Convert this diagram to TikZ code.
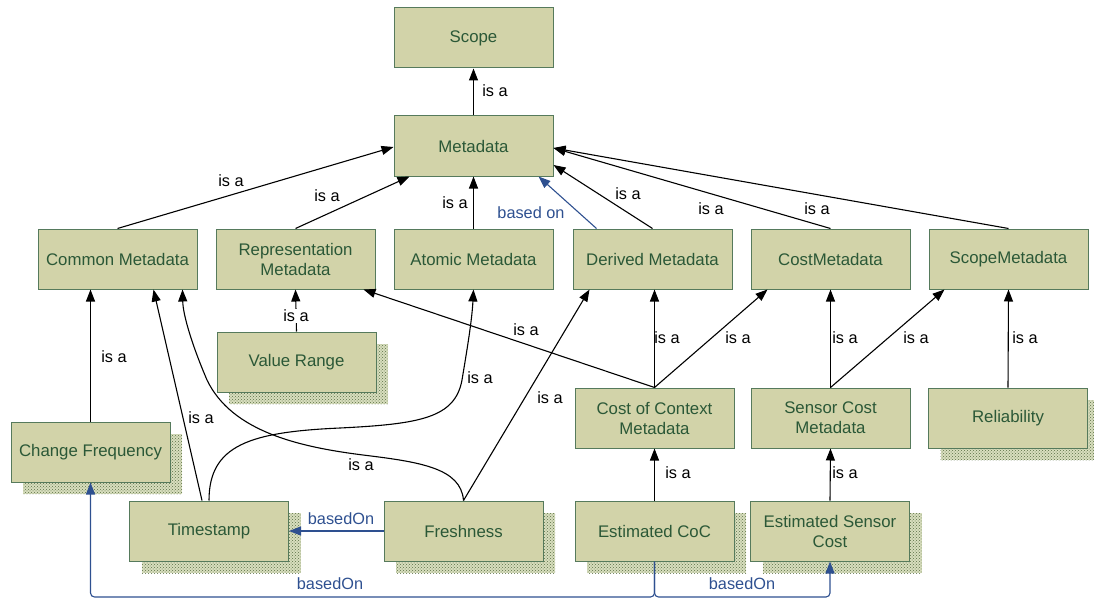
\documentclass[tikz,border=0pt]{standalone}
\usepackage{fontspec}
\setmainfont{Liberation Sans}
\usetikzlibrary{arrows.meta,calc,shadows,patterns}
\definecolor{boxfill}{HTML}{D2D3A9}
\definecolor{boxline}{HTML}{567A5C}
\definecolor{boxtext}{HTML}{2B5837}
\definecolor{linkblue}{HTML}{2E5090}
\definecolor{shadowbg}{HTML}{D8DEBE}
\definecolor{shadowdot}{HTML}{5A7044}
\begin{document}
\begin{tikzpicture}[x=1pt,y=-1pt,
  box/.style={draw=boxline, line width=1pt, fill=boxfill, text=boxtext,
    minimum width=159pt, minimum height=60pt, align=center, inner sep=2pt,
    font=\fontsize{16.8}{20}\selectfont},
  shadowed/.style={
    general shadow={shadow xshift=12pt, shadow yshift=-12pt, fill=shadowbg},
    general shadow={shadow xshift=12pt, shadow yshift=-12pt,
      pattern=crosshatch dots, pattern color=shadowdot}},
  isa/.style={draw=black, line width=1.1pt, -{Triangle[length=12pt,width=9pt]}},
  basedon/.style={draw=linkblue, line width=1.1pt, -{Triangle[length=12pt,width=9pt]}},
  lbl/.style={font=\fontsize{16.3}{20}\selectfont, inner sep=1pt},
  blbl/.style={lbl, text=linkblue}]
\useasboundingbox (0,0) rectangle (1094,599);

% concept boxes
\node[box] (scope)  at (473.5,38)  {Scope};
\node[box] (meta)   at (473.5,146) {Metadata};
\node[box] (common) at (117.5,259) {Common Metadata};
\node[box] (repr)   at (295.5,259) {Representation\\Metadata};
\node[box] (atomic) at (473.5,259) {Atomic Metadata};
\node[box] (derived) at (652.5,259) {Derived Metadata};
\node[box] (cost)   at (830.5,259) {CostMetadata};
\node[box] (scopem) at (1008.5,259) {ScopeMetadata};
\node[box, shadowed] (vrange) at (296.5,362) {Value Range};
\node[box, shadowed] (chfreq) at (90.5,452) {Change Frequency};
\node[box] (cocm)   at (654.5,418) {Cost of Context\\Metadata};
\node[box] (sensm)  at (830.5,418) {Sensor Cost\\Metadata};
\node[box, shadowed] (rel)    at (1008,418) {Reliability};
\node[box, shadowed] (ts)     at (209,531) {Timestamp};
\node[box, shadowed] (fresh)  at (463.5,531) {Freshness};
\node[box, shadowed] (ecoc)   at (654.5,531) {Estimated CoC};
\node[box, shadowed] (esens)  at (830,531) {Estimated Sensor\\Cost};

\coordinate (bus) at (0,597);

% is-a relations
\draw[isa] (meta.north) -- (scope.south);
\draw[isa] (common.north) -- ($(meta.west)+(0,1)$);
\draw[isa] (repr.north) -- ($(meta.south west)+(16,0)$);
\draw[isa] (atomic.north) -- (meta.south);
\draw[isa] (derived.north) -- ($(meta.east)+(0,19)$);
\draw[isa] (cost.north) -- ($(meta.east)+(0,2)$);
\draw[isa] (scopem.north) -- ($(meta.east)+(0,2)$);
\draw[isa] (vrange.north) -- (repr.south);
\draw[isa] (chfreq.north) -- (chfreq.north |- common.south);
\draw[isa] ($(ts.north)+(-7,0)$) -- ($(common.south)+(36,0)$);
\draw[isa] (ts.north) .. controls (209,445) and (250,432) .. (340,428)
  .. controls (420,424) and (455,418) .. (462,380)
  .. controls (467,350) and (472,320) .. (atomic.south);
\draw[isa] (fresh.north) .. controls (461,468) and (420,462) .. (363,455)
  .. controls (300,447) and (232,432) .. (207,380)
  .. controls (192,345) and (183,315) .. ($(common.south east)+(-15,0)$);
\draw[isa] (fresh.north) -- ($(derived.south west)+(17,0)$);
\draw[isa] (cocm.north) -- ($(repr.south east)+(-12,0)$);
\draw[isa] (cocm.north) -- (cocm.north |- derived.south);
\draw[isa] (cocm.north) -- ($(cost.south west)+(17,0)$);
\draw[isa] (sensm.north) -- (cost.south);
\draw[isa] (sensm.north) -- ($(scopem.south west)+(16,0)$);
\draw[isa] (rel.north) -- (scopem.south);
\draw[isa] (ecoc.north) -- (ecoc.north |- cocm.south);
\draw[isa] (esens.north) -- (sensm.south);

% based-on relations
\draw[basedon] ($(derived.north west)+(24,0)$) -- ($(meta.south east)+(-15,0)$);
\draw[basedon] (fresh.west) -- (ts.east);
\draw[basedon, rounded corners=4pt] (ecoc.south) -- (ecoc.south |- bus)
  -- (chfreq.south |- bus) -- (chfreq.south);
\draw[basedon, rounded corners=4pt] (ecoc.south) -- (ecoc.south |- bus)
  -- (esens.south |- bus) -- (esens.south);

% relation labels
\node[lbl] (l1)  at (495,91)  {is a};
\node[lbl] (l2)  at (231,181) {is a};
\node[lbl] (l3)  at (327,196) {is a};
\node[lbl] (l4)  at (455,203) {is a};
\node[blbl] (l5) at (531,213) {based on};
\node[lbl] (l6)  at (628,194) {is a};
\node[lbl] (l7)  at (711,209) {is a};
\node[lbl] (l8)  at (817,209) {is a};
\node[lbl, fill=white] (l9) at (296,316) {is a};
\node[lbl] (l10) at (114,357) {is a};
\node[lbl] (l11) at (201,418) {is a};
\node[lbl] (l12) at (480,378) {is a};
\node[lbl] (l13) at (361,465) {is a};
\node[lbl] (l14) at (550,398) {is a};
\node[lbl] (l15) at (526,330) {is a};
\node[lbl] (l16) at (667,338) {is a};
\node[lbl] (l17) at (738,338) {is a};
\node[lbl] (l18) at (845,338) {is a};
\node[lbl] (l19) at (916,338) {is a};
\node[lbl] (l20) at (1025,338) {is a};
\node[lbl] (l21) at (678,473) {is a};
\node[lbl] (l22) at (845,473) {is a};
\node[blbl] (l23) at (341,519) {basedOn};
\node[blbl] (l24) at (330,584) {basedOn};
\node[blbl] (l25) at (742,584) {basedOn};
\end{tikzpicture}
\end{document}
